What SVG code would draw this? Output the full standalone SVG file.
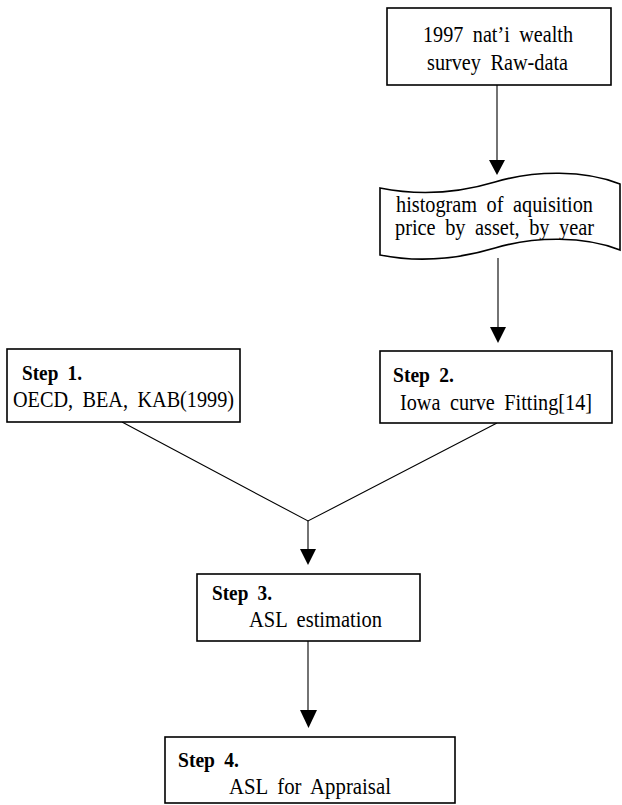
<svg xmlns="http://www.w3.org/2000/svg" width="622" height="805" viewBox="0 0 622 805">
<style>
  .box { fill: #ffffff; stroke: #000000; stroke-width: 1.6; }
  .edge { fill: none; stroke: #000000; stroke-width: 1.1; }
  .t { font-family: "Liberation Serif", "Times New Roman", serif; font-size: 23px; fill: #000000; word-spacing: 5px; }
  .b { font-family: "Liberation Serif", "Times New Roman", serif; font-size: 22px; font-weight: bold; fill: #000000; word-spacing: 5px; }
</style>
<rect width="622" height="805" fill="#ffffff"/>
<g id="connectors">
  <line class="edge" x1="497" y1="85" x2="497" y2="160"/>
  <path d="M489,160 L505,160 L497,175 Z" fill="#000"/>
  <line class="edge" x1="498" y1="258" x2="498" y2="327"/>
  <path d="M490,327 L506,327 L498,343 Z" fill="#000"/>
  <polyline class="edge" points="122,422 308,521 497,423"/>
  <line class="edge" x1="308" y1="521" x2="308" y2="549"/>
  <path d="M300,549 L316,549 L308,565 Z" fill="#000"/>
  <line class="edge" x1="308" y1="641" x2="308" y2="710"/>
  <path d="M300,710 L317,710 L308.5,728 Z" fill="#000"/>
</g>
<g id="node-raw">
  <rect class="box" x="387" y="8" width="224" height="77"/>
  <text class="t" x="423" y="42" textLength="150" lengthAdjust="spacingAndGlyphs">1997 nat’i wealth</text>
  <text class="t" x="427" y="70" textLength="141" lengthAdjust="spacingAndGlyphs">survey Raw-data</text>
</g>
<g id="node-histogram">
  <path class="box" d="M380,188 C415,195 455,194 495,182 C535,170 585,170 620,184 L620,250 C585,236 535,236 495,248 C455,260 415,262 380,255 Z"/>
  <text class="t" x="396" y="212" textLength="197" lengthAdjust="spacingAndGlyphs">histogram of aquisition</text>
  <text class="t" x="395" y="235" textLength="199" lengthAdjust="spacingAndGlyphs">price by asset, by year</text>
</g>
<g id="node-step1">
  <rect class="box" x="7" y="349" width="233" height="73"/>
  <text class="b" x="22" y="380" textLength="60" lengthAdjust="spacingAndGlyphs">Step 1.</text>
  <text class="t" x="13" y="407" textLength="221" lengthAdjust="spacingAndGlyphs">OECD, BEA, KAB(1999)</text>
</g>
<g id="node-step2">
  <rect class="box" x="380" y="351" width="232" height="72"/>
  <text class="b" x="393" y="382" textLength="61" lengthAdjust="spacingAndGlyphs">Step 2.</text>
  <text class="t" x="400" y="410" textLength="192" lengthAdjust="spacingAndGlyphs">Iowa curve Fitting[14]</text>
</g>
<g id="node-step3">
  <rect class="box" x="197" y="574" width="223" height="67"/>
  <text class="b" x="212" y="600" textLength="60" lengthAdjust="spacingAndGlyphs">Step 3.</text>
  <text class="t" x="249" y="627" textLength="133" lengthAdjust="spacingAndGlyphs">ASL estimation</text>
</g>
<g id="node-step4">
  <rect class="box" x="165" y="737" width="290" height="66"/>
  <text class="b" x="178" y="767" textLength="61" lengthAdjust="spacingAndGlyphs">Step 4.</text>
  <text class="t" x="229" y="794" textLength="162" lengthAdjust="spacingAndGlyphs">ASL for Appraisal</text>
</g>
</svg>
